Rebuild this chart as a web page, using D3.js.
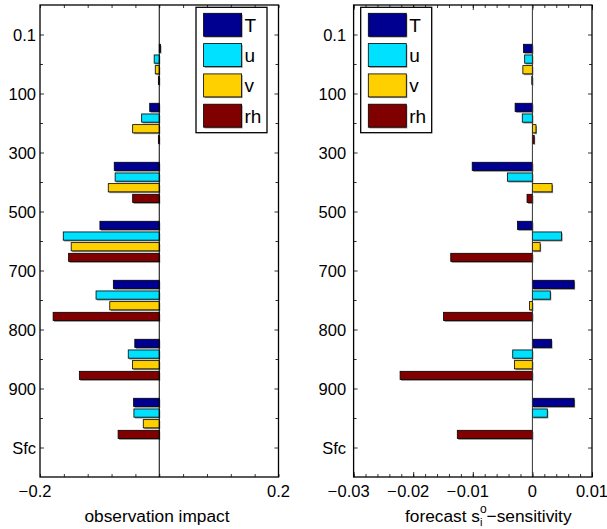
<!DOCTYPE html>
<html>
<head>
<meta charset="utf-8">
<script src="https://d3js.org/d3.v7.min.js"></script>
<style>
body { margin: 0; background: #fff; }
svg text { font-family: "Liberation Sans", Arial, Helvetica, sans-serif; fill: #000; }
</style>
</head>
<body>
<script>
// pressure levels (y tick labels) and variables
const levels = ["0.1", "100", "300", "500", "700", "800", "900", "Sfc"];
const variables = ["T", "u", "v", "rh"];
const colors = ["#000090", "#00e0ff", "#ffd000", "#800000"];

// observation impact per layer (0.1-100, 100-300, ..., 900-Sfc)
const impactT  = [0.002, -0.016, -0.0755, -0.0995, -0.077, -0.041, -0.043];
const impactU  = [-0.0085, -0.0295, -0.074, -0.161, -0.106, -0.052, -0.0425];
const impactV  = [-0.0067, -0.0446, -0.0855, -0.1477, -0.083, -0.045, -0.0268];
const impactRh = [-0.0015, -0.0015, -0.0446, -0.152, -0.178, -0.134, -0.069];

// forecast s-sensitivity per layer
const sensT  = [-0.0015, -0.0029, -0.0101, -0.0025, 0.007, 0.0032, 0.007];
const sensU  = [-0.0013, -0.0017, -0.0042, 0.0049, 0.003, -0.0033, 0.0025];
const sensV  = [-0.0016, 0.0006, 0.0033, 0.0013, -0.0005, -0.003, 0];
const sensRh = [-0.0001, 0.0003, -0.0009, -0.0137, -0.0149, -0.0222, -0.0126];

// x tick labels
const impactLabels = [-0.2, 0.2];
const sensLabels = [-0.03, -0.02, -0.01, 0, 0.01];

var width = 607, height = 529;
var plotTop = 5, plotBottom = 477;

var svg = d3.select("body").append("svg")
    .attr("width", width)
    .attr("height", height);

var y = d3.scaleLinear().domain([0.5, 8.5]).range([plotTop, plotBottom]);
var groupSpan = y(0.362) - y(0);
var sub = d3.scaleBand().domain(variables)
    .range([-groupSpan, groupSpan])
    .paddingInner(0.23).paddingOuter(0.115);

const drawPanel = (p) => {
    var x = d3.scaleLinear().domain(p.domain).range([p.left, p.right]);
    var g = svg.append("g");

    // minor ticks, bottom and top, pointing inward
    g.append("g")
        .attr("transform", "translate(0," + plotBottom + ")")
        .call(d3.axisBottom(x).tickValues(p.minor).tickSize(-3).tickFormat(""))
        .call(a => a.select(".domain").remove());
    g.append("g")
        .attr("transform", "translate(0," + plotTop + ")")
        .call(d3.axisTop(x).tickValues(p.minor).tickSize(-3).tickFormat(""))
        .call(a => a.select(".domain").remove());
    if (p.major) {
        g.append("g")
            .attr("transform", "translate(0," + plotBottom + ")")
            .call(d3.axisBottom(x).tickValues(p.major).tickSize(-5).tickFormat(""))
            .call(a => a.select(".domain").remove());
        g.append("g")
            .attr("transform", "translate(0," + plotTop + ")")
            .call(d3.axisTop(x).tickValues(p.major).tickSize(-5).tickFormat(""))
            .call(a => a.select(".domain").remove());
    }

    // y ticks on both sides
    var yl = g.append("g")
        .attr("transform", "translate(" + p.left + ",0)")
        .call(d3.axisLeft(y).tickValues(d3.range(1, 9)).tickSize(-4).tickPadding(p.ypad)
            .tickFormat(i => levels[i - 1]));
    yl.select(".domain").remove();
    yl.attr("font-family", null).attr("font-size", null);
    yl.selectAll("text").attr("font-size", 16.5).attr("dy", "0.36em");
    g.append("g")
        .attr("transform", "translate(" + p.left + ",0)")
        .call(d3.axisLeft(y).tickValues(d3.range(1.5, 8, 1)).tickSize(-3).tickFormat(""))
        .call(a => a.select(".domain").remove());
    g.append("g")
        .attr("transform", "translate(" + p.right + ",0)")
        .call(d3.axisRight(y).tickValues(d3.range(1, 9)).tickSize(-4).tickFormat(""))
        .call(a => a.select(".domain").remove());
    g.append("g")
        .attr("transform", "translate(" + p.right + ",0)")
        .call(d3.axisRight(y).tickValues(d3.range(1.5, 8, 1)).tickSize(-3).tickFormat(""))
        .call(a => a.select(".domain").remove());
    g.selectAll(".tick line").attr("stroke", "#000").attr("stroke-width", 0.8);

    // x tick labels, digits centred, minus hanging to the left
    p.labels.forEach(v => {
        var digits = String(Math.abs(v));
        var t = g.append("text")
            .attr("x", x(v)).attr("y", 497)
            .attr("text-anchor", "middle")
            .attr("font-size", 16.5)
            .text(digits);
        if (v < 0) {
            var w = t.node().getComputedTextLength();
            g.append("text")
                .attr("x", x(v) - w / 2 - 0.5).attr("y", 497)
                .attr("text-anchor", "end")
                .attr("font-size", 16.5)
                .text("\u2212");
        }
    });

    // bars
    var rows = [];
    p.series.forEach((vals, j) => {
        vals.forEach((v, i) => rows.push({ layer: i, v: v, j: j }));
    });
    var bh = sub.bandwidth();
    var bars = g.append("g");
    rows.forEach(d => {
        var x0 = Math.min(x(0), x(d.v));
        var w = Math.abs(x(d.v) - x(0));
        var yy = y(d.layer + 1.5) + sub(variables[d.j]) + 0.4;
        bars.append("rect")
            .attr("x", x0 + 1).attr("y", yy + 1.3)
            .attr("width", w).attr("height", bh)
            .attr("fill", "#8a8a8a");
        bars.append("rect")
            .attr("x", x0).attr("y", yy)
            .attr("width", w).attr("height", bh)
            .attr("fill", colors[d.j])
            .attr("stroke", "#000")
            .attr("stroke-width", 0.8);
    });

    // zero line
    g.append("line")
        .attr("x1", x(0)).attr("x2", x(0))
        .attr("y1", plotTop).attr("y2", plotBottom)
        .attr("stroke", p.zeroColor).attr("stroke-width", 1);

    // frame
    g.append("rect")
        .attr("x", p.left).attr("y", plotTop)
        .attr("width", p.right - p.left).attr("height", plotBottom - plotTop)
        .attr("fill", "none").attr("stroke", "#000").attr("stroke-width", 1.3);

    // legend
    var lg = g.append("g").attr("transform", "translate(" + p.legendX + ",7.3)");
    lg.append("rect")
        .attr("width", 71).attr("height", 125.4)
        .attr("fill", "#fff").attr("stroke", "#000").attr("stroke-width", 1.3);
    variables.forEach((name, j) => {
        var ry = 6 + j * 30.3;
        lg.append("rect")
            .attr("x", 7.6 + 1).attr("y", ry + 1.2)
            .attr("width", 38).attr("height", 23)
            .attr("fill", "#8a8a8a");
        lg.append("rect")
            .attr("x", 7.6).attr("y", ry)
            .attr("width", 38).attr("height", 23)
            .attr("fill", colors[j]).attr("stroke", "#000").attr("stroke-width", 0.8);
        lg.append("text")
            .attr("x", 48.5).attr("y", ry + 18.5)
            .attr("font-size", 19)
            .text(name);
    });

    // x label
    var xl = g.append("text")
        .attr("y", 522)
        .attr("font-size", 17.3);
    p.xlabel(xl);
};

drawPanel({
    left: 40, right: 278.5,
    domain: [-0.2, 0.2],
    minor: d3.range(-0.2, 0.2001, 0.04),
    major: null,
    labels: impactLabels,
    series: [impactT, impactU, impactV, impactRh],
    ypad: 4,
    zeroColor: "#000",
    legendX: 196,
    xlabel: t => t.attr("x", 157).attr("text-anchor", "middle").text("observation impact")
});

drawPanel({
    left: 353.6, right: 592,
    domain: [-0.03, 0.01],
    minor: d3.range(-0.03, 0.01001, 0.002),
    major: sensLabels,
    labels: sensLabels,
    series: [sensT, sensU, sensV, sensRh],
    ypad: 7.5,
    zeroColor: "#333",
    legendX: 360.7,
    xlabel: t => {
        t.attr("x", 405);
        t.append("tspan").text("forecast s");
        t.append("tspan").attr("font-size", 11).attr("dy", 4).text("i");
        t.append("tspan").attr("font-size", 12).attr("dx", -2.5).attr("dy", -13).text("o");
        t.append("tspan").attr("dy", 9).text("\u2212sensitivity");
    }
});
</script>
</body>
</html>
